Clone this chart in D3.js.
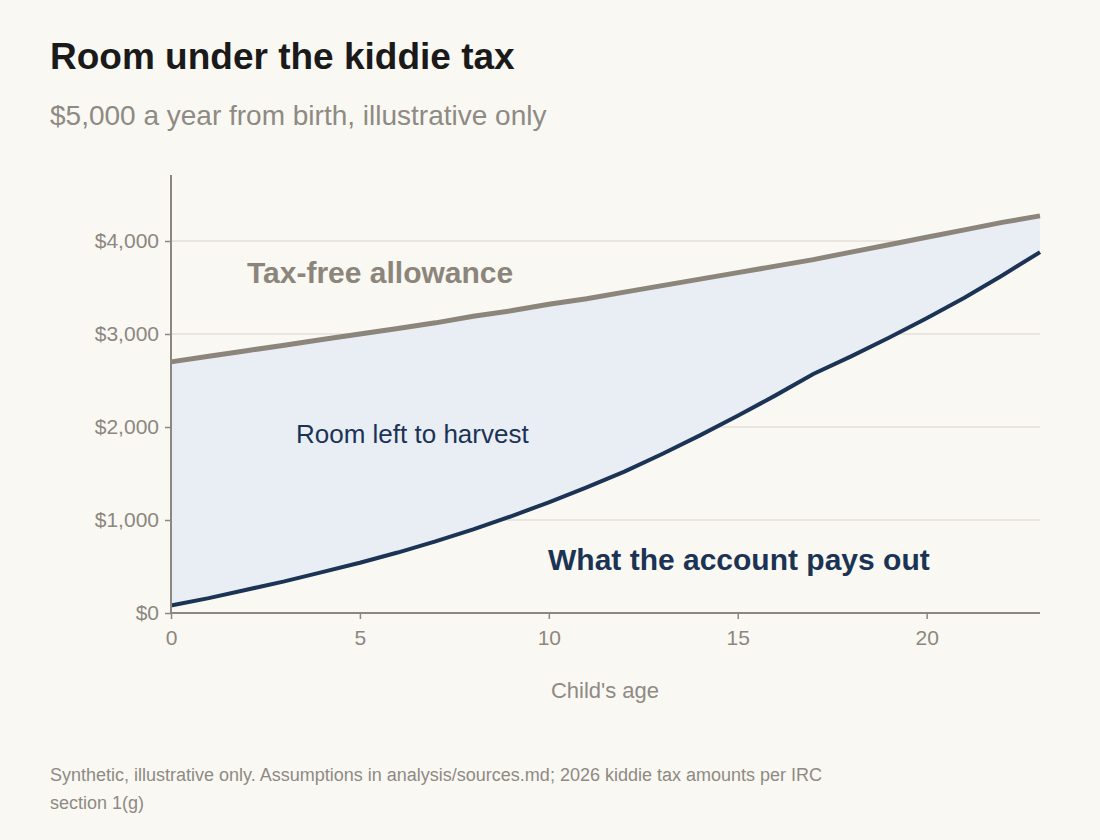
<!DOCTYPE html>
<html lang="en">
<head>
<meta charset="UTF-8">
<title>Room under the kiddie tax</title>
<script src="https://d3js.org/d3.v7.min.js"></script>
<style>
  body { margin: 0; background: #faf8f2; }
  text { font-family: "Liberation Sans", Arial, sans-serif; }
</style>
</head>
<body>
<svg width="1100" height="840"></svg>
<script>
// Child's age, years
const ages = [0,1,2,3,4,5,6,7,8,9,10,11,12,13,14,15,16,17,18,19,20,21,22,23];
// Tax-free allowance, $
const allowance = [2700,2760,2820,2880,2940,3000,3060,3120,3190,3250,3320,3380,3450,3520,3590,3660,3730,3800,3880,3960,4040,4120,4200,4270];
// What the account pays out, $
const payout = [80,160,250,340,440,540,650,770,900,1040,1190,1350,1520,1710,1910,2120,2340,2570,2760,2960,3170,3390,3630,3880];
const yTicks = [0,1000,2000,3000,4000];
const xTicks = [0,5,10,15,20];

const svg = d3.select("svg");
const x = d3.scaleLinear().domain([0, 23]).range([171, 1040]);
const y = d3.scaleLinear().domain([0, 4000]).range([613, 241]);

svg.append("rect").attr("width", 1100).attr("height", 840).attr("fill", "#faf8f2");

svg.append("text").attr("x", 50).attr("y", 69).attr("font-size", 37).attr("font-weight", 700)
  .attr("fill", "#1a1a1a").text("Room under the kiddie tax");
svg.append("text").attr("x", 50).attr("y", 125).attr("font-size", 28).attr("fill", "#8e8a84")
  .text("$5,000 a year from birth, illustrative only");

// gridlines
svg.append("g").selectAll("line").data(yTicks.slice(1)).join("line")
  .attr("x1", 171).attr("x2", 1040).attr("y1", d => y(d)).attr("y2", d => y(d))
  .attr("stroke", "#d8d4cc").attr("stroke-width", 1);

const rows = ages.map((a, i) => ({ a, top: allowance[i], bot: payout[i] }));

svg.append("path").datum(rows)
  .attr("fill", "#e9edf4")
  .attr("d", d3.area().x(d => x(d.a)).y0(d => y(d.bot)).y1(d => y(d.top)));

svg.append("path").datum(rows).attr("fill", "none").attr("stroke", "#8c857b").attr("stroke-width", 5)
  .attr("d", d3.line().x(d => x(d.a)).y(d => y(d.top)));
svg.append("path").datum(rows).attr("fill", "none").attr("stroke", "#1b3354").attr("stroke-width", 4)
  .attr("d", d3.line().x(d => x(d.a)).y(d => y(d.bot)));

// axes
const xAxis = svg.append("g").attr("transform", "translate(0,613)")
  .call(d3.axisBottom(x).tickValues(xTicks).tickSize(6).tickPadding(10));
const yAxis = svg.append("g").attr("transform", "translate(171,0)")
  .call(d3.axisLeft(y).tickValues(yTicks).tickSize(6).tickPadding(6).tickFormat(d => "$" + d3.format(",")(d)));
yAxis.select(".domain").attr("d", "M0,175V613");
xAxis.select(".domain").attr("d", "M171,0H1040");
[xAxis, yAxis].forEach(g => {
  g.selectAll(".domain").attr("stroke", "#8c8780").attr("stroke-width", 2);
  g.selectAll(".tick line").attr("stroke", "#8c8780").attr("stroke-width", 1.5);
  g.selectAll(".tick text").attr("fill", "#8c8780").attr("font-size", 21)
    .style("font-family", "'Liberation Sans', Arial, sans-serif");
});
xAxis.selectAll(".tick text").attr("dy", "0.75em");

svg.append("text").attr("x", 605).attr("y", 698).attr("text-anchor", "middle").attr("font-size", 22)
  .attr("fill", "#8e8a84").text("Child's age");

// labels
svg.append("text").attr("x", 247).attr("y", 283).attr("font-size", 30).attr("font-weight", 700)
  .attr("fill", "#8c857b").text("Tax-free allowance");
svg.append("text").attr("x", 296).attr("y", 443).attr("font-size", 26)
  .attr("fill", "#1b3354").text("Room left to harvest");
svg.append("text").attr("x", 548).attr("y", 570).attr("font-size", 30).attr("font-weight", 700)
  .attr("fill", "#1b3354").text("What the account pays out");

svg.append("text").attr("x", 50).attr("y", 781).attr("font-size", 18).attr("fill", "#8e8a84")
  .text("Synthetic, illustrative only. Assumptions in analysis/sources.md; 2026 kiddie tax amounts per IRC");
svg.append("text").attr("x", 50).attr("y", 809).attr("font-size", 18).attr("fill", "#8e8a84")
  .text("section 1(g)");
</script>
</body>
</html>
